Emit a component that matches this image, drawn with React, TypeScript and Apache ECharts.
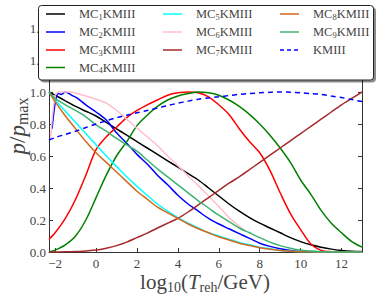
import React, { useEffect, useRef } from "react";
import * as echarts from "echarts";

// shared x grid (log10 T_reh / GeV)
const xs = [-2.3, -2, -1.5, -1, -0.5, 0, 0.5, 1, 1.5, 2, 2.5, 3, 3.5, 4, 4.5, 5, 5.5, 6, 6.5, 7, 7.5, 8, 8.5, 9, 9.5, 10, 10.5, 11, 11.5, 12, 12.5, 13];

const mc1 = [1.0, 0.98, 0.945, 0.91, 0.88, 0.85, 0.81, 0.77, 0.73, 0.69, 0.65, 0.61, 0.57, 0.53, 0.49, 0.45, 0.4, 0.35, 0.3, 0.255, 0.215, 0.18, 0.15, 0.12, 0.09, 0.065, 0.045, 0.03, 0.018, 0.01, 0.005, 0.003];
const mc3 = [0.08, 0.12, 0.21, 0.33, 0.48, 0.64, 0.72, 0.78, 0.84, 0.885, 0.92, 0.95, 0.98, 0.995, 1.0, 0.995, 0.97, 0.92, 0.86, 0.77, 0.69, 0.62, 0.51, 0.37, 0.24, 0.14, 0.05, 0.01, 0.002, 0, 0, 0];
const mc4 = [0.0, 0.012, 0.045, 0.1, 0.2, 0.34, 0.48, 0.6, 0.69, 0.79, 0.855, 0.91, 0.95, 0.975, 0.99, 1.0, 0.995, 0.98, 0.95, 0.91, 0.86, 0.8, 0.73, 0.65, 0.56, 0.45, 0.36, 0.26, 0.18, 0.12, 0.065, 0.03];
const mc5 = [1.0, 0.95, 0.88, 0.81, 0.74, 0.67, 0.6, 0.535, 0.47, 0.41, 0.355, 0.3, 0.255, 0.215, 0.18, 0.15, 0.12, 0.1, 0.08, 0.06, 0.045, 0.03, 0.02, 0.01, 0.005, 0.002, 0.001, 0, 0, 0, 0, 0];
const mc7 = [0, 0.0005, 0.001, 0.003, 0.007, 0.012, 0.024, 0.04, 0.062, 0.09, 0.118, 0.15, 0.18, 0.21, 0.25, 0.295, 0.34, 0.385, 0.43, 0.47, 0.515, 0.56, 0.605, 0.65, 0.695, 0.74, 0.785, 0.83, 0.875, 0.92, 0.96, 1.0];
const mc8 = [1.0, 0.94, 0.85, 0.77, 0.69, 0.62, 0.56, 0.5, 0.44, 0.38, 0.33, 0.28, 0.245, 0.21, 0.175, 0.145, 0.12, 0.095, 0.075, 0.055, 0.04, 0.027, 0.017, 0.01, 0.005, 0.002, 0.001, 0, 0, 0, 0, 0];
const mc9 = [1.0, 0.96, 0.92, 0.885, 0.845, 0.795, 0.755, 0.71, 0.67, 0.63, 0.575, 0.52, 0.47, 0.42, 0.37, 0.32, 0.275, 0.23, 0.19, 0.15, 0.12, 0.09, 0.062, 0.04, 0.024, 0.012, 0.006, 0.002, 0, 0, 0, 0];
const kmiii = [0.7, 0.715, 0.735, 0.755, 0.778, 0.8, 0.82, 0.84, 0.855, 0.87, 0.885, 0.9, 0.915, 0.93, 0.943, 0.955, 0.963, 0.97, 0.978, 0.985, 0.99, 0.995, 0.998, 1.0, 0.999, 0.995, 0.99, 0.985, 0.975, 0.965, 0.953, 0.94];

const mc2X = [-2.15, -2.0, -1.85, -1.7, -1.5, -1.2, -0.9, -0.5, 0, 0.5, 1, 1.5, 2, 2.5, 3, 3.5, 4, 4.5, 5, 5.5, 6, 6.5, 7, 7.5, 8, 8.5, 9, 9.5, 10];
const mc2 = [0.77, 0.93, 0.99, 0.985, 1.0, 0.98, 0.96, 0.92, 0.875, 0.825, 0.745, 0.68, 0.61, 0.55, 0.48, 0.42, 0.355, 0.3, 0.255, 0.21, 0.175, 0.145, 0.115, 0.085, 0.055, 0.035, 0.02, 0.01, 0.003];

const mc6X = [-2.22, -2.0, -1.8, -1.3, -0.5, 0, 0.5, 1, 1.5, 2, 2.5, 3, 3.5, 4, 4.5, 5, 5.5, 6, 6.5, 7, 7.3];
const mc6 = [0.71, 0.98, 1.0, 1.0, 0.975, 0.955, 0.93, 0.885, 0.83, 0.775, 0.72, 0.665, 0.6, 0.54, 0.475, 0.415, 0.35, 0.285, 0.215, 0.16, 0.13];

const yTicks = [0, 0.2, 0.4, 0.6, 0.8, 1.0, 1.2, 1.4];

type S = { idx: string; color: string; x: number[]; y: number[]; dashed?: boolean };
const seriesDefs: S[] = [
  { idx: "1", color: "#000000", x: xs, y: mc1 },
  { idx: "2", color: "#0000ff", x: mc2X, y: mc2 },
  { idx: "3", color: "#ff0000", x: xs, y: mc3 },
  { idx: "4", color: "#008000", x: xs, y: mc4 },
  { idx: "5", color: "#00ffff", x: xs, y: mc5 },
  { idx: "6", color: "#ffc0cb", x: mc6X, y: mc6 },
  { idx: "7", color: "#a52a2a", x: xs, y: mc7 },
  { idx: "8", color: "#d2691e", x: xs, y: mc8 },
  { idx: "9", color: "#3cb371", x: xs, y: mc9 },
  { idx: "", color: "#0000ff", x: xs, y: kmiii, dashed: true },
];

const SERIF = "'Liberation Serif', 'DejaVu Serif', serif";
const AX = "#333333";
const TXT = "#444444";

export default function App() {
  const ref = useRef<HTMLDivElement>(null);
  useEffect(() => {
    if (!ref.current) return;
    const chart = echarts.init(ref.current, undefined, { renderer: "svg" });

    const series = seriesDefs.map((s) => ({
      type: "line",
      name: s.idx ? `MC${s.idx}KMIII` : "KMIII",
      data: s.x.map((x, i) => [x, s.y[i]]),
      showSymbol: false,
      smooth: 0.3,
      lineStyle: { color: s.color, width: 1.5, type: s.dashed ? [5, 4] : "solid" },
      itemStyle: { color: s.color },
      z: 2,
    }));

    const ZL = 100;
    const colX = [46, 163, 280];
    const rowY = [14, 32, 50, 67.5];
    const layout = [
      [0, 0], [0, 1], [0, 2], [0, 3],
      [1, 0], [1, 1], [1, 2],
      [2, 0], [2, 1], [2, 2],
    ];
    const legendChildren: any[] = [
      {
        type: "rect",
        z: ZL,
        zlevel: 0,
        shape: { x: 38.5, y: 5.5, width: 335, height: 74.5, r: 3 },
        style: {
          fill: "#ffffff",
          stroke: "#222",
          lineWidth: 1,
          shadowColor: "rgba(0,0,0,0.45)",
          shadowOffsetX: 2,
          shadowOffsetY: 2,
          shadowBlur: 0,
        },
      },
    ];
    seriesDefs.forEach((s, k) => {
      const [c, r] = layout[k];
      const x0 = colX[c];
      const y0 = rowY[r];
      legendChildren.push({
        type: "line",
        z: ZL + 1,
        shape: { x1: x0, y1: y0, x2: x0 + 19, y2: y0 },
        style: { stroke: s.color, lineWidth: 1.5, lineDash: s.dashed ? [4, 3] : null },
      });
      legendChildren.push({
        type: "text",
        z: ZL + 1,
        x: x0 + 33,
        y: y0,
        style: {
          text: s.idx ? `{m|MC}{s|${s.idx}}{m|KMIII}` : "{m|KMIII}",
          verticalAlign: "middle",
          align: "left",
          rich: {
            m: { fontFamily: SERIF, fontSize: 12.5, fill: TXT, lineHeight: 14 },
            s: { fontFamily: SERIF, fontSize: 8.5, fill: TXT, lineHeight: 8, verticalAlign: "bottom" },
          },
        },
      });
    });

    const fmtX = (v: number) => {
      const r = Math.round(v);
      if (Math.abs(v - r) > 1e-6 || r % 2 !== 0) return "";
      return r < 0 ? "\u2212" + String(-r) : String(r);
    };

    chart.setOption({
      animation: false,
      backgroundColor: "#ffffff",
      grid: { left: 49, right: 17, top: 28, bottom: 47, containLabel: false },
      xAxis: [
        {
          type: "value",
          min: -2.3,
          max: 13,
          minInterval: 2,
          maxInterval: 2,
          splitNumber: 8,
          position: "bottom",
          axisLine: { onZero: false, lineStyle: { color: AX, width: 1 } },
          axisTick: { inside: true, length: 4, lineStyle: { color: AX } },
          splitLine: { show: false },
          axisLabel: { formatter: fmtX, color: TXT, fontFamily: SERIF, fontSize: 13, margin: 5 },
          z: 1,
        },
        {
          type: "value",
          min: -2.3,
          max: 13,
          minInterval: 2,
          maxInterval: 2,
          position: "top",
          axisLine: { onZero: false, lineStyle: { color: AX, width: 1 } },
          axisTick: { inside: true, length: 4, lineStyle: { color: AX } },
          splitLine: { show: false },
          axisLabel: { show: false },
          z: 1,
        },
      ],
      yAxis: [
        {
          type: "value",
          min: yTicks[0],
          max: yTicks[yTicks.length - 1],
          interval: 0.2,
          position: "left",
          axisLine: { show: true, onZero: false, lineStyle: { color: AX, width: 1 } },
          axisTick: { show: true, inside: true, length: 4, lineStyle: { color: AX } },
          splitLine: { show: false },
          axisLabel: { formatter: (v: number) => v.toFixed(1), color: TXT, fontFamily: SERIF, fontSize: 13, margin: 3 },
          z: 1,
        },
        {
          type: "value",
          min: yTicks[0],
          max: yTicks[yTicks.length - 1],
          interval: 0.2,
          position: "right",
          axisLine: { show: true, onZero: false, lineStyle: { color: AX, width: 1 } },
          axisTick: { show: true, inside: true, length: 4, lineStyle: { color: AX } },
          splitLine: { show: false },
          axisLabel: { show: false },
          z: 1,
        },
      ],
      series,
      graphic: {
        elements: [
          ...legendChildren,
          {
            type: "text",
            z: ZL,
            x: 205,
            y: 282,
            style: {
              text: "{m|log}{s|10}{m|(}{i|T}{s|reh}{m|/GeV)}",
              align: "center",
              verticalAlign: "middle",
              rich: {
                m: { fontFamily: SERIF, fontSize: 21, fill: TXT, lineHeight: 24 },
                i: { fontFamily: SERIF, fontStyle: "italic", fontSize: 21, fill: TXT, lineHeight: 24 },
                s: { fontFamily: SERIF, fontSize: 14, fill: TXT, lineHeight: 14, verticalAlign: "bottom" },
              },
            },
          },
          {
            type: "text",
            z: ZL,
            x: 17,
            y: 126,
            rotation: Math.PI / 2,
            style: {
              text: "{i|p}{m|/}{i|p}{s|max}",
              align: "center",
              verticalAlign: "middle",
              rich: {
                m: { fontFamily: SERIF, fontSize: 23, fill: TXT, lineHeight: 26 },
                i: { fontFamily: SERIF, fontStyle: "italic", fontSize: 23, fill: TXT, lineHeight: 26 },
                s: { fontFamily: SERIF, fontSize: 16, fill: TXT, lineHeight: 16, verticalAlign: "bottom" },
              },
            },
          },
        ],
      },
    });
    return () => chart.dispose();
  }, []);
  return (
    <div
      ref={ref}
      style={{ position: "fixed", left: 0, top: 0, width: 379, height: 299, background: "#fff" }}
    />
  );
}
